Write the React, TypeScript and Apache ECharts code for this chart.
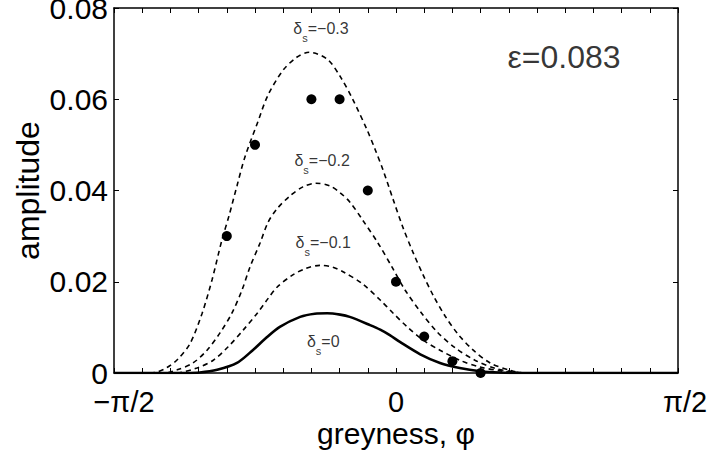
import React, { useEffect, useRef } from "react";
import * as echarts from "echarts";

// φ expressed in units of π (axis runs from −π/2 to π/2)
const phiD03 = [-0.5, -0.436, -0.424, -0.406, -0.387, -0.365, -0.344, -0.326, -0.309, -0.296, -0.282, -0.268, -0.246, -0.227, -0.2, -0.176, -0.154, -0.122, -0.099, -0.076, -0.051, -0.037, -0.023, -0.005, 0.012, 0.03, 0.048, 0.066, 0.087, 0.11, 0.137, 0.167, 0.202, 0.229, 0.5];
const ampD03 = [0, 0, 0.0002, 0.0012, 0.003, 0.0065, 0.013, 0.0205, 0.029, 0.0345, 0.041, 0.0473, 0.0547, 0.0609, 0.0664, 0.0692, 0.0703, 0.0688, 0.065, 0.0598, 0.0532, 0.049, 0.0445, 0.038, 0.032, 0.0265, 0.0215, 0.017, 0.0125, 0.0085, 0.005, 0.0022, 0.0006, 0, 0];

const phiD02 = [-0.5, -0.41, -0.388, -0.36, -0.335, -0.312, -0.291, -0.273, -0.259, -0.241, -0.227, -0.211, -0.188, -0.165, -0.142, -0.117, -0.099, -0.082, -0.059, -0.032, -0.007, 0.016, 0.043, 0.073, 0.105, 0.14, 0.176, 0.207, 0.229, 0.5];
const ampD02 = [0, 0, 0.0007, 0.0022, 0.005, 0.0088, 0.0131, 0.0182, 0.0232, 0.0285, 0.033, 0.036, 0.0388, 0.0408, 0.0416, 0.041, 0.0395, 0.0375, 0.0335, 0.0285, 0.0232, 0.0182, 0.0135, 0.009, 0.0055, 0.0028, 0.001, 0.0003, 0, 0];

const phiD01 = [-0.5, -0.392, -0.353, -0.324, -0.298, -0.271, -0.246, -0.227, -0.211, -0.183, -0.16, -0.135, -0.112, -0.094, -0.059, -0.028, -0.005, 0.02, 0.048, 0.078, 0.113, 0.149, 0.184, 0.22, 0.5];
const ampD01 = [0, 0, 0.0011, 0.0028, 0.0057, 0.0094, 0.0131, 0.0163, 0.0188, 0.0215, 0.0229, 0.0236, 0.0232, 0.0222, 0.0195, 0.016, 0.0131, 0.0101, 0.0072, 0.005, 0.0028, 0.0013, 0.0005, 0, 0];

const phiD00 = [-0.5, -0.374, -0.348, -0.317, -0.282, -0.254, -0.232, -0.206, -0.17, -0.144, -0.122, -0.099, -0.082, -0.046, -0.028, -0.011, 0.007, 0.043, 0.078, 0.113, 0.149, 0.184, 0.22, 0.5];
const ampD00 = [0, 0, 0.0001, 0.0007, 0.0022, 0.005, 0.0075, 0.0101, 0.0123, 0.013, 0.0131, 0.0128, 0.0123, 0.0105, 0.0095, 0.0083, 0.0068, 0.0041, 0.0022, 0.0011, 0.0004, 0.0001, 0, 0];

const dotPhi = [-0.3, -0.25, -0.15, -0.1, -0.05, 0, 0.05, 0.1, 0.15];
const dotAmp = [0.03, 0.05, 0.06, 0.06, 0.04, 0.02, 0.008, 0.0026, 0];

const curveDeltas = ["−0.3", "−0.2", "−0.1", "0"];
const labelPhi = [-0.133, -0.131, -0.129, -0.129];
const labelAmp = [0.0755, 0.0466, 0.0285, 0.0069];

const epsText = "ε=0.083";
const epsPhi = 0.298;
const epsAmp = 0.0692;

const xTickLabels: Record<string, string> = { "-0.5": "{l|−π/2}", "0": "0", "0.5": "{r|π/2}" };

const FONT = "'Liberation Sans', Arial, Helvetica, sans-serif";

function zip(a: number[], b: number[]) {
  return a.map((v, i) => [v, b[i]]);
}

export default function App() {
  const ref = useRef<HTMLDivElement>(null);
  useEffect(() => {
    if (!ref.current) return;
    const chart = echarts.init(ref.current, undefined, { renderer: "svg" });
    const dashed = { color: "#000", width: 1.6, type: [5, 4] as number[] };
    const axisCommon = {
      type: "value" as const,
      axisLine: { show: true, onZero: false, lineStyle: { color: "#000", width: 1.5 } },
      axisTick: { show: true, inside: true, length: 5, lineStyle: { color: "#000", width: 1 } },
      splitLine: { show: false },
    };
    const xFmt = (v: number) => {
      const key = Math.abs(v + 0.5) < 1e-6 ? "-0.5" : Math.abs(v) < 1e-6 ? "0" : Math.abs(v - 0.5) < 1e-6 ? "0.5" : "";
      return key ? xTickLabels[key] : "";
    };
    chart.setOption({
      animation: false,
      backgroundColor: "#fff",
      textStyle: { fontFamily: FONT, color: "#000" },
      grid: { left: 114, right: 31, top: 8, bottom: 81, containLabel: false, outerBoundsMode: "none" },
      xAxis: [
        {
          ...axisCommon,
          position: "bottom",
          min: -0.5,
          max: 0.5,
          interval: 0.05,
          axisLabel: {
            show: true,
            formatter: xFmt,
            fontSize: 29,
            lineHeight: 24,
            color: "#000",
            fontFamily: FONT,
            margin: 17,
            showMinLabel: true,
            showMaxLabel: true,
            rich: {
              l: { fontSize: 29, lineHeight: 24, fontFamily: FONT, color: "#000", padding: [0, 0, 0, 20] },
              r: { fontSize: 29, lineHeight: 24, fontFamily: FONT, color: "#000", padding: [0, 0, 0, 14] },
            },
          },
          name: "greyness, φ",
          nameLocation: "middle",
          nameGap: 47,
          nameMoveOverlap: false,
          nameTextStyle: { fontSize: 30, lineHeight: 26, fontFamily: FONT, color: "#000" },
        },
        {
          ...axisCommon,
          position: "top",
          min: -0.5,
          max: 0.5,
          interval: 0.05,
          axisLabel: { show: false },
        },
      ],
      yAxis: [
        {
          ...axisCommon,
          position: "left",
          min: 0,
          max: 0.08,
          interval: 0.02,
          axisLabel: {
            show: true,
            formatter: (v: number) => (v === 0 ? "0" : v.toFixed(2)),
            fontSize: 30,
            lineHeight: 22,
            padding: [4, 0, 0, 0],
            color: "#000",
            fontFamily: FONT,
            margin: 6,
          },
          name: "amplitude",
          nameLocation: "middle",
          nameGap: 70,
          nameRotate: 90,
          nameMoveOverlap: false,
          nameTextStyle: { fontSize: 32, fontFamily: FONT, color: "#000" },
        },
        {
          ...axisCommon,
          position: "right",
          min: 0,
          max: 0.08,
          interval: 0.02,
          axisLabel: { show: false },
        },
      ],
      series: [
        { type: "line", name: "δs=−0.3", data: zip(phiD03, ampD03), showSymbol: false, smooth: 0.3, lineStyle: dashed, z: 3 },
        { type: "line", name: "δs=−0.2", data: zip(phiD02, ampD02), showSymbol: false, smooth: 0.3, lineStyle: dashed, z: 3 },
        { type: "line", name: "δs=−0.1", data: zip(phiD01, ampD01), showSymbol: false, smooth: 0.3, lineStyle: dashed, z: 3 },
        { type: "line", name: "δs=0", data: zip(phiD00, ampD00), showSymbol: false, smooth: 0.3, lineStyle: { color: "#000", width: 2.6 }, z: 4 },
        {
          type: "scatter",
          name: "measured",
          data: zip(dotPhi, dotAmp),
          symbol: "circle",
          symbolSize: 10,
          itemStyle: { color: "#000", opacity: 1 },
          z: 5,
        },
        {
          type: "scatter",
          name: "labels",
          silent: true,
          symbolSize: 0,
          itemStyle: { color: "transparent" },
          data: [
            ...curveDeltas.map((d, i) => ({
              value: [labelPhi[i], labelAmp[i]],
              label: { formatter: "{d|δ}{s|s}{t|=" + d + "}" },
            })),
            { value: [epsPhi, epsAmp], label: { formatter: "{e|" + epsText + "}" } },
          ],
          label: {
            show: true,
            position: "inside",
            color: "#000",
            rich: {
              d: { fontSize: 16, lineHeight: 30, fontFamily: FONT, color: "#000" },
              s: { fontSize: 11, lineHeight: 10, verticalAlign: "bottom", fontFamily: FONT, color: "#000" },
              t: { fontSize: 16, lineHeight: 30, fontFamily: FONT, color: "#000" },
              e: { fontSize: 32, fontFamily: FONT, color: "#000" },
            },
          },
          z: 6,
        },
      ],
    });
    return () => chart.dispose();
  }, []);
  return <div ref={ref} style={{ position: "fixed", left: 0, top: 0, width: 709, height: 454, background: "#fff" }} />;
}
